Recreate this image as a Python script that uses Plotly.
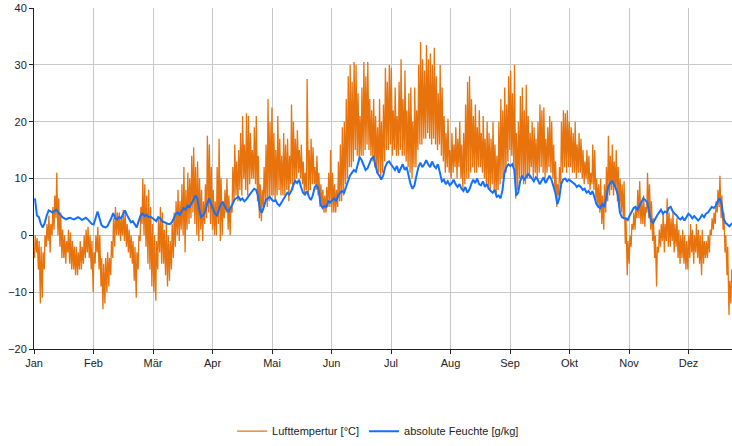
import plotly.graph_objects as go

# Month labels for the time axis (one tick per twelfth of the year)
months = ["Jan", "Feb", "Mär", "Apr", "Mai", "Jun", "Jul", "Aug", "Sep", "Okt", "Nov", "Dez"]

# Daily minimum air temperature [°C], day 0 = 1 Jan
tmin = [
    -4, -3, -6, -12, -11, -6, -2, -1, -3, 0,
    1, 3, 0, -2, -4, -4, -5, -3, -5, -6,
    -6, -7, -7, -6, -6, -5, -4, -3, -4, -6,
    -10, -5, -3, -6, -9, -13, -12, -10, -9, -7,
    -4, -2, 0, 0, -1, 0, -1, -2, -3, -4,
    -5, -8, -11, -6, -1, 2, 0, -2, -5, -6,
    -9, -10, -11.5, -6, -3, -5, -5, -7, -9, -8,
    -6, -4, -2, 0, -1, 1, 0, -3, 1, 2,
    3, 4, 2, 0, -1, 1, -1, 2, 3, 4,
    2, 1, 0, 0, 2, -1, 0, 3, 4, 1,
    0, 4, 6, 7, 6, 8, 7, 10, 8, 7,
    9, 10, 10, 9, 6, 3, 2.5, 5, 6, 5,
    6, 7, 7, 6, 7, 8, 7, 7, 7, 8,
    6, 9, 8, 9, 10, 11, 10, 9, 7, 8,
    7, 8, 9, 9, 8, 7, 5, 5, 4, 4,
    5, 5, 4, 4, 4, 5, 6, 6, 7, 9,
    10, 12, 12, 13, 15, 14, 13, 14, 14, 15,
    16, 15, 14, 13, 12, 11, 11, 10, 11, 13,
    15, 15, 16, 14, 15, 14, 14, 15, 14, 14,
    13, 12, 11, 10, 12, 12, 15, 16, 16, 17,
    17, 18, 17, 16, 17, 16, 15, 16, 14, 13,
    11, 12, 11, 10, 11, 12, 10, 12, 10, 8,
    9, 10, 10, 11, 12, 11, 11, 12, 12, 11,
    10, 9, 8, 8, 9, 8, 7, 8, 9, 10,
    10, 11, 13, 15, 14, 12, 6.5, 8, 10, 10,
    9, 9, 10, 10, 12, 10, 11, 10, 11, 12,
    11, 10, 11, 12, 11, 10, 8, 5, 7, 9,
    11, 12, 11, 12, 12, 11, 11, 10, 11, 11,
    10, 9, 10, 9, 8, 9, 8, 6, 5, 4,
    2, 1, 4, 6, 7, 8, 7, 8, 6, 5,
    4, 3, -1.5, -7, -5, -2, 1, 1, 3, 3,
    2, 2, 1.5, 4, 3, 1, -1, -4, -9, -3,
    -2, -1, -3, -1, -2, -2, -1, -3, -2, -4,
    -5, -4, -5, -6, -6, -4, -3, -5, -3, -4,
    -5, -7, -5, -4, -4, -3, 0, 1, 2, 4,
    5, 3, 1, -3, -7, -14, -12, -10,
]

# Daily maximum air temperature [°C]
tmax = [
    0, -0.5, -1, -2, -3, 0, 2, 3.5, 2, 5,
    7, 11, 6.5, 4, 1, 0, -1, 1, 0.5, -1,
    -2, -2, -3, -1, -2, 0, 1, 1.5, 0, -1,
    -3, 0, 1.5, 0, -4, -5, -4, -3, -4, -1,
    3, 5, 4, 4, 3, 4.5, 4, 2, 1, 0,
    -1, -2, -3, 0, 5, 10, 9, 7, 8, 5,
    2, 0, -1, 3, 5, 4, 1, 2, 0, -1,
    2, 4, 6, 8, 6, 9, 12, 8, 11, 10,
    14, 15.5, 12, 13, 10, 8, 6, 9, 17.5, 16,
    12, 8, 6, 12, 17, 10, 6, 8, 10, 7,
    5, 12, 16, 13, 15, 18, 21, 16, 21.5, 21,
    18, 15, 19, 21, 14, 9, 8, 12, 16, 24,
    20, 22.5, 18, 15, 21, 17, 14, 18, 16, 17,
    14, 23, 20, 17, 18.5, 15, 16, 13, 11, 27.5,
    15, 17, 15.5, 12, 14, 11, 9, 8, 7, 8.5,
    11, 15, 11, 9, 8, 13, 16, 19, 20, 24,
    28, 30, 27, 30.5, 30, 25, 21, 26, 30.5, 28,
    30.5, 24, 22, 24, 21, 19, 24, 20, 23, 29.5,
    27, 30, 29.5, 22, 26, 21, 27, 31, 24, 29,
    22, 25, 26, 20, 26, 22, 30, 34, 31, 29,
    33.5, 31, 32, 30, 33, 28, 25, 30, 26, 21,
    18, 20.5, 15, 18, 16, 19, 17, 20, 16, 18,
    23, 27, 28, 24, 21, 23, 19, 22, 18, 21,
    17, 20, 18, 17, 20, 16, 14, 20, 24, 22,
    26, 23, 28, 29, 25, 30, 18, 20, 24.5, 26,
    22, 26.5, 21, 18, 20, 19, 17, 20, 23, 22,
    22.5, 17, 19, 21, 20, 16, 13, 9, 12, 20,
    22, 21.5, 22, 20, 19, 18, 20, 16, 18, 17,
    15, 13, 15, 14, 11, 16, 15, 10, 9, 10,
    7, 9, 12, 17.5, 14, 16, 13, 15, 12, 10,
    9, 9.5, 3, -1, 0, 2, 4, 5, 8, 9.5,
    6, 7, 5, 11, 9, 6, 3, 0, -2, 1,
    2, 4, 2, 6.5, 4, 3, 4, 2, 3, 1,
    0, 1, 0, -1, 0, 2, 1, 0, 2, 1,
    0, 1, -1, -1, 0, 1, 3, 4, 6, 8,
    10.5, 7, 4, 0, -2, -8, -6, -7,
]

# Daily absolute humidity [g/kg]
hum = [
    6.5, 3.5, 3.2, 2.0, 1.4, 2.2, 3.5, 4.4, 4.2, 4.0,
    4.3, 4.5, 4.0, 3.5, 3.2, 3.0, 2.8, 3.0, 3.1, 2.9,
    2.8, 3.0, 3.2, 3.0, 2.7, 2.9, 3.1, 2.8, 2.4, 2.0,
    1.9, 3.0, 4.2, 3.0, 1.8, 1.5, 1.4, 1.6, 2.2, 3.0,
    3.9, 3.0, 2.8, 3.2, 3.0, 3.8, 4.4, 3.6, 2.8, 2.3,
    2.5, 2.0, 1.4, 2.5, 3.5, 3.8, 3.4, 3.6, 3.2, 3.3,
    3.0, 2.8, 2.5, 3.2, 3.0, 2.5, 2.3, 2.2, 2.0, 2.0,
    2.3, 3.0, 3.8, 4.0, 3.6, 4.2, 4.8, 4.5, 5.2, 5.0,
    5.5, 6.2, 7.0, 6.5, 4.5, 3.2, 3.5, 4.2, 5.5, 6.5,
    5.5, 4.5, 3.8, 3.5, 4.5, 5.5, 5.8, 5.2, 4.5, 4.2,
    4.8, 5.5, 6.3, 6.5, 6.8, 6.2, 6.5, 6.0, 6.3, 6.8,
    7.2, 7.8, 8.2, 8.0, 7.0, 4.5, 4.0, 5.0, 6.2, 6.5,
    6.8, 6.3, 6.0, 6.2, 5.5, 5.2, 5.8, 6.2, 7.0, 7.5,
    7.2, 7.8, 8.8, 9.6, 9.2, 9.8, 8.5, 7.5, 7.2, 7.8,
    6.8, 6.2, 7.0, 8.5, 8.8, 8.0, 5.5, 4.8, 5.2, 5.0,
    6.0, 5.8, 6.2, 6.5, 6.0, 7.0, 7.5, 7.8, 7.5, 8.5,
    9.5, 10.5, 11.0, 11.5, 11.2, 12.5, 13.8, 13.2, 12.5, 11.5,
    11.8, 12.8, 13.5, 13.8, 12.5, 11.0, 10.5, 9.8, 10.5, 12.0,
    12.8, 13.0, 12.5, 12.0, 11.5, 12.2, 11.0, 11.8, 12.5, 11.5,
    12.0, 10.5, 9.0, 8.2, 8.8, 10.5, 12.0, 12.8, 12.0, 12.5,
    13.2, 12.5, 12.0, 13.0, 12.2, 11.8, 12.5, 11.0, 9.5, 9.8,
    9.0, 9.5, 8.8, 9.2, 9.8, 9.0, 8.5, 9.0, 8.2, 7.8,
    8.5, 7.5, 8.0, 9.0, 9.8, 9.2, 10.0, 9.0, 8.8, 9.5,
    8.5, 9.0, 8.2, 7.8, 7.5, 8.0, 6.8, 7.0, 6.5, 8.0,
    11.0, 12.0, 12.5, 12.2, 12.5, 11.5, 7.0, 7.5, 9.5, 10.5,
    9.8, 10.2, 10.8, 10.5, 10.0, 9.5, 10.2, 9.8, 9.0, 9.5,
    10.2, 9.2, 10.0, 10.5, 9.8, 8.8, 7.5, 5.5, 6.5, 9.0,
    9.8, 10.0, 9.5, 9.8, 9.5, 9.2, 9.0, 8.5, 8.8, 8.5,
    8.0, 8.2, 7.5, 7.8, 7.2, 7.8, 6.5, 5.5, 5.0, 4.8,
    5.5, 5.0, 6.5, 8.5, 9.2, 9.5, 9.0, 8.2, 7.0, 4.0,
    3.2, 3.0, 3.0, 2.7, 3.5, 4.2, 4.8, 5.0, 4.5, 5.2,
    6.0, 6.5, 6.2, 5.8, 4.0, 2.5, 2.2, 3.0, 3.5, 4.0,
    4.5, 3.8, 4.2, 4.0, 4.8, 5.0, 4.2, 3.8, 3.5, 3.0,
    2.8, 3.2, 2.6, 3.2, 3.8, 3.5, 3.0, 3.4, 3.0, 2.6,
    3.0, 3.6, 3.2, 3.8, 4.0, 4.5, 5.0, 4.8, 5.2, 6.0,
    6.5, 5.5, 3.0, 2.2, 1.8, 1.6, 2.0, 2.2,
]

DAYS_PER_YEAR = 365

# Temperature: early-morning minimum and afternoon maximum of each day
t_x, t_y = [], []
for d, (lo, hi) in enumerate(zip(tmin, tmax)):
    t_x += [d + 0.25, d + 0.62]
    t_y += [lo, hi]

h_x = [d + 0.5 for d in range(len(hum))]

fig = go.Figure()
fig.add_trace(go.Scatter(
    x=t_x, y=t_y, mode="lines", name="Lufttempertur [°C]",
    line=dict(color="#E8720C", width=1.3),
))
fig.add_trace(go.Scatter(
    x=h_x, y=hum, mode="lines", name="absolute Feuchte [g/kg]",
    line=dict(color="#1470FF", width=2),
))

month_pos = [i * DAYS_PER_YEAR / 12 for i in range(12)]
grid = "#C8C8C8"

fig.update_layout(
    width=732, height=446,
    margin=dict(l=34, r=0, t=8, b=94),
    paper_bgcolor="white", plot_bgcolor="white",
    font=dict(family="Liberation Sans, Arial, sans-serif", size=11, color="#222"),
    showlegend=True,
    legend=dict(
        orientation="h", x=0.493, xanchor="center", y=-0.241, yanchor="middle",
        font=dict(size=11, color="#222"), itemwidth=30, tracegroupgap=0,
    ),
    xaxis=dict(
        range=[0, 356.8], tickmode="array", tickvals=month_pos, ticktext=months,
        showgrid=True, gridcolor=grid, gridwidth=1,
        showline=True, linecolor="#222", linewidth=1,
        ticks="outside", ticklen=4, tickcolor="#222", zeroline=False,
    ),
    yaxis=dict(
        range=[-20, 40], dtick=10, tick0=0,
        showgrid=True, gridcolor=grid, gridwidth=1,
        showline=True, linecolor="#222", linewidth=1,
        ticks="outside", ticklen=4, tickcolor="#222", zeroline=False,
    ),
)

fig.write_html("out.html")
